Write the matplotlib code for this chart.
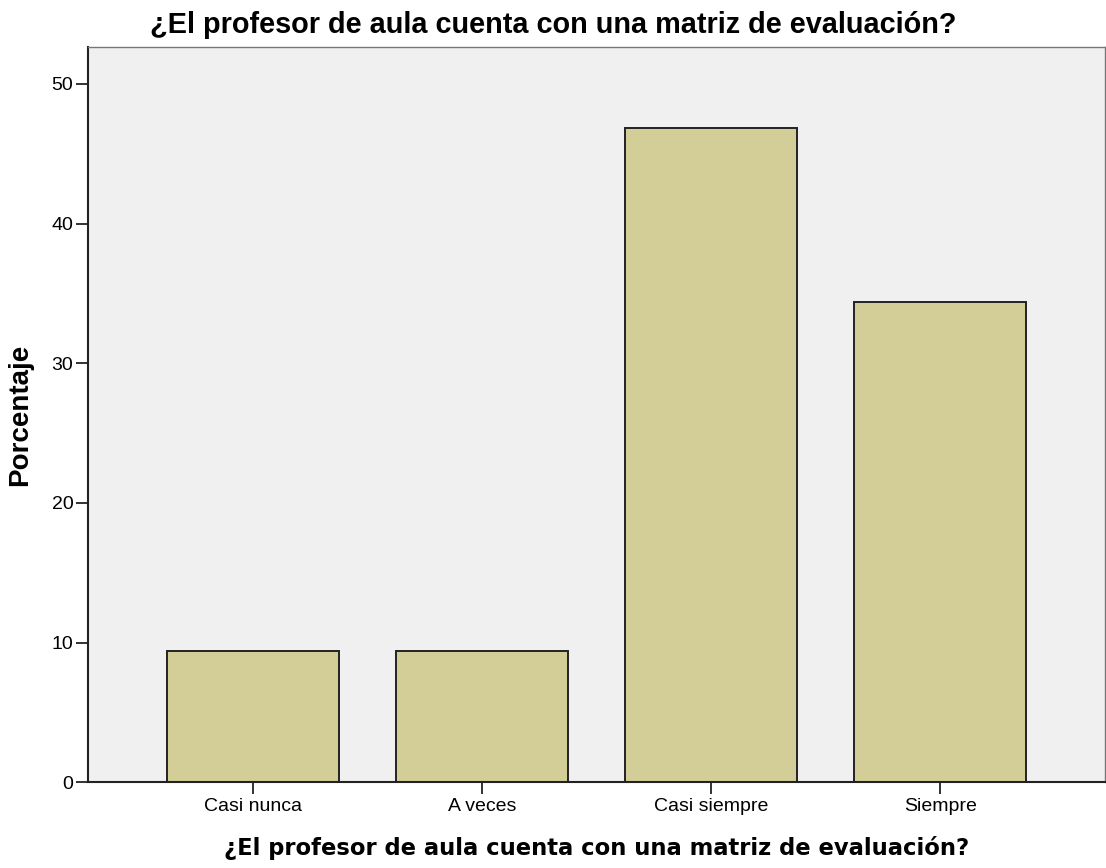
import matplotlib
matplotlib.use('Agg')
import matplotlib.pyplot as plt

categories = ['Casi nunca', 'A veces', 'Casi siempre', 'Siempre']
porcentaje = [9.375, 9.375, 46.875, 34.375]
yticks = [0, 10, 20, 30, 40, 50]
titulo = '¿El profesor de aula cuenta con una matriz de evaluación?'

fig = plt.figure(figsize=(11.06, 8.68), dpi=100)
ax = fig.add_axes([0.0796, 0.0987, 0.9195, 0.8473])
ax.set_facecolor('#F0F0F0')

x = list(range(len(categories)))
ax.bar(x, porcentaje, width=0.75, color='#D3CE97', edgecolor='#222222', linewidth=1.4, zorder=2)

ax.set_xlim(-0.722, 3.72)
ax.set_ylim(0, 52.65)
ax.set_xticks(x)
ax.set_xticklabels(categories, fontsize=14, family='Liberation Sans')
ax.set_yticks(yticks)
ax.set_yticklabels([str(v) for v in yticks], fontsize=14, family='Liberation Sans')
ax.tick_params(axis='both', length=8.5, width=1.3, color='#222222', pad=2)
ax.tick_params(axis='x', pad=3)

for side in ['left', 'bottom']:
    ax.spines[side].set_color('#222222')
    ax.spines[side].set_linewidth(1.5)
for side in ['top', 'right']:
    ax.spines[side].set_color('#777777')
    ax.spines[side].set_linewidth(1.0)

ax.set_ylabel('Porcentaje', fontsize=20, fontweight='bold', family='Liberation Sans', labelpad=13)
ax.set_xlabel(titulo, fontsize=16.3, fontweight='bold', family='DejaVu Sans', labelpad=15)
fig.text(0.5, 0.962, titulo, ha='center', va='baseline', fontsize=20.8, fontweight='bold', family='Liberation Sans')

fig.savefig('out.png', dpi=100)
